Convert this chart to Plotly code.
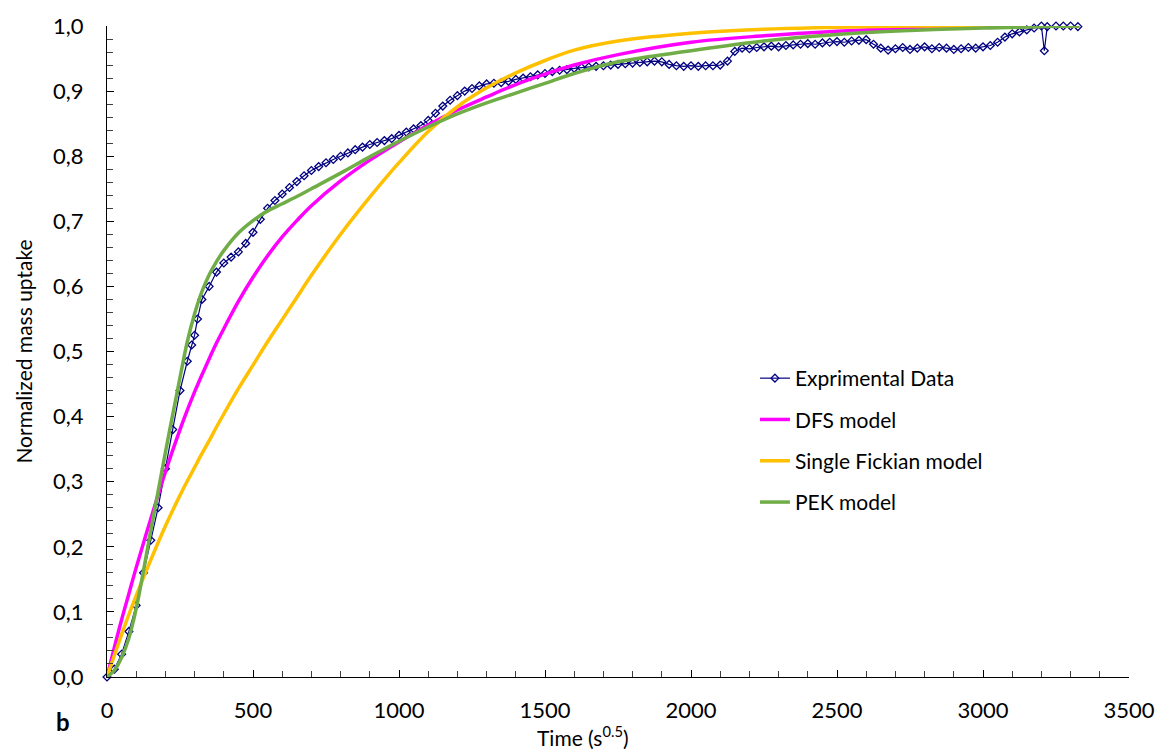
import plotly.graph_objects as go

# ---------------- data ----------------
exp_t = [0, 25, 50, 75, 100, 125, 150, 175, 200, 225, 250, 275, 290, 300, 310, 325,
         350, 375, 400, 425, 450, 475, 500, 525, 550, 575, 600, 625, 650, 675, 700,
         725, 750, 775, 800, 825, 850, 875, 900, 925, 950, 975, 1000, 1025, 1050,
         1075, 1100, 1125, 1150, 1175, 1200, 1225, 1250, 1275, 1300, 1325, 1350,
         1375, 1400, 1425, 1450, 1475, 1500, 1525, 1550, 1575, 1600, 1625, 1650,
         1675, 1700, 1725, 1750, 1775, 1800, 1825, 1850, 1875, 1900, 1925, 1950,
         1975, 2000, 2025, 2050, 2075, 2100, 2125, 2150, 2175, 2200, 2225, 2250,
         2275, 2300, 2325, 2350, 2375, 2400, 2425, 2450, 2475, 2500, 2525, 2550,
         2575, 2600, 2625, 2650, 2675, 2700, 2725, 2750, 2775, 2800, 2825, 2850,
         2875, 2900, 2925, 2950, 2975, 3000, 3025, 3050, 3075, 3100, 3125, 3150,
         3175, 3200, 3210, 3220, 3250, 3275, 3300, 3325]
exp_y = [0.0, 0.012, 0.035, 0.07, 0.11, 0.16, 0.21, 0.26, 0.32, 0.38, 0.44, 0.485, 0.51, 0.525, 0.55, 0.58,
         0.6, 0.622, 0.636, 0.645, 0.653, 0.666, 0.683, 0.703, 0.72, 0.732, 0.742, 0.752, 0.761, 0.77, 0.778,
         0.784, 0.79, 0.795, 0.8, 0.805, 0.81, 0.814, 0.818, 0.821, 0.824, 0.827, 0.832, 0.837, 0.842,
         0.847, 0.855, 0.866, 0.877, 0.886, 0.893, 0.9, 0.904, 0.908, 0.911, 0.912, 0.913,
         0.915, 0.918, 0.92, 0.922, 0.925, 0.927, 0.93, 0.932, 0.933, 0.935, 0.936, 0.937,
         0.938, 0.939, 0.94, 0.941, 0.942, 0.943, 0.944, 0.945, 0.946, 0.945, 0.941, 0.939,
         0.938, 0.939, 0.938, 0.939, 0.939, 0.94, 0.946, 0.961, 0.966, 0.965, 0.967, 0.968,
         0.969, 0.968, 0.97, 0.971, 0.972, 0.973, 0.972, 0.974, 0.975, 0.976, 0.975, 0.977,
         0.978, 0.979, 0.972, 0.966, 0.963, 0.965, 0.967, 0.964, 0.966, 0.968, 0.965, 0.967,
         0.966, 0.964, 0.965, 0.967, 0.966, 0.968, 0.97, 0.975, 0.983, 0.988, 0.991, 0.994,
         0.997, 1.0, 0.962, 0.999, 1.0, 1.0, 1.0, 0.999]

model_t = [0, 25, 50, 75, 100, 150, 200, 250, 275, 300, 325, 350, 375, 400, 450, 500, 550,
           600, 650, 700, 800, 900, 1000, 1100, 1200, 1300, 1400, 1500, 1600, 1750, 2000,
           2250, 2500, 2750, 3000, 3330]
dfs_y = [0, 0.045, 0.088, 0.128, 0.168, 0.243, 0.315, 0.38, 0.41, 0.438, 0.464, 0.489, 0.513,
         0.535, 0.577, 0.614, 0.647, 0.676, 0.701, 0.724, 0.762, 0.794, 0.822, 0.848, 0.871,
         0.891, 0.91, 0.926, 0.94, 0.956, 0.975, 0.985, 0.992, 0.997, 0.999, 1.0]
fick_y = [0, 0.033, 0.065, 0.096, 0.125, 0.18, 0.232, 0.279, 0.301, 0.322, 0.343, 0.363,
          0.384, 0.404, 0.443, 0.479, 0.515, 0.549, 0.583, 0.617, 0.68, 0.737, 0.79, 0.838,
          0.876, 0.905, 0.928, 0.947, 0.963, 0.977, 0.989, 0.995, 0.998, 1.0, 1.0, 1.0]
pek_y = [0, 0.01, 0.03, 0.06, 0.105, 0.225, 0.345, 0.46, 0.515, 0.558, 0.592, 0.618, 0.638,
         0.655, 0.682, 0.701, 0.716, 0.727, 0.738, 0.75, 0.774, 0.799, 0.823, 0.845, 0.865,
         0.882, 0.897, 0.912, 0.927, 0.945, 0.962, 0.977, 0.987, 0.993, 0.997, 1.0]

series_names = ["Exprimental Data", "DFS model", "Single Fickian model", "PEK model"]
FONT = "Lato"

fig = go.Figure()
fig.add_trace(go.Scatter(
    x=exp_t, y=exp_y, name=series_names[0], mode="lines+markers",
    line=dict(color="#000080", width=1.2),
    marker=dict(symbol="diamond-open", size=6, color="#000080", line=dict(width=1.3, color="#000080")),
    cliponaxis=False, legendgroup="a"))
fig.add_trace(go.Scatter(
    x=model_t, y=dfs_y, name=series_names[1], mode="lines",
    line=dict(color="#FF00FF", width=3.5, shape="spline", smoothing=1), legendgroup="b"))
fig.add_trace(go.Scatter(
    x=model_t, y=fick_y, name=series_names[2], mode="lines",
    line=dict(color="#FFC000", width=3.5, shape="spline", smoothing=1), legendgroup="c"))
fig.add_trace(go.Scatter(
    x=model_t, y=pek_y, name=series_names[3], mode="lines",
    line=dict(color="#70AD47", width=3.5, shape="spline", smoothing=1), legendgroup="d"))

fig.update_layout(
    width=1167, height=753,
    margin=dict(l=107, r=28, t=25, b=76),
    paper_bgcolor="white", plot_bgcolor="white",
    separators=",.",
    font=dict(family=FONT, size=21, color="#000000"),
    showlegend=True,
    legend=dict(x=0.634, y=0.49, xanchor="left", yanchor="top",
                font=dict(family=FONT, size=21), tracegroupgap=11,
                bgcolor="rgba(0,0,0,0)"),
    xaxis=dict(range=[0, 3500], dtick=500, tick0=0, tickformat="d",
               showgrid=False, zeroline=False, showline=True, linecolor="#000000", linewidth=1,
               ticks="inside", ticklen=7, tickcolor="#000000", tickwidth=1,
               minor=dict(dtick=100, ticks="inside", ticklen=6, tickcolor="#404040"),
               tickfont=dict(family=FONT, size=22), ticklabelstandoff=14),
    yaxis=dict(range=[0, 1], dtick=0.1, tick0=0, tickformat=".1f",
               showgrid=False, zeroline=False, showline=True, linecolor="#000000", linewidth=1,
               ticks="inside", ticklen=7, tickcolor="#000000", tickwidth=1,
               minor=dict(dtick=0.02, ticks="inside", ticklen=6, tickcolor="#404040"),
               tickfont=dict(family=FONT, size=22), ticklabelstandoff=18,
               title=dict(text="Normalized mass uptake", font=dict(family=FONT, size=21), standoff=14)),
    annotations=[
        dict(text="<b>b</b>", x=-0.0426, y=-0.069, xref="paper", yref="paper",
             showarrow=False, font=dict(family=FONT, size=24), xanchor="center", yanchor="middle"),
        dict(text="Time (s<sup>0.5</sup>)", x=0.466, y=-0.0905, xref="paper", yref="paper",
             showarrow=False, font=dict(family=FONT, size=21), xanchor="center", yanchor="middle"),
    ],
)

fig.write_html("out.html")
